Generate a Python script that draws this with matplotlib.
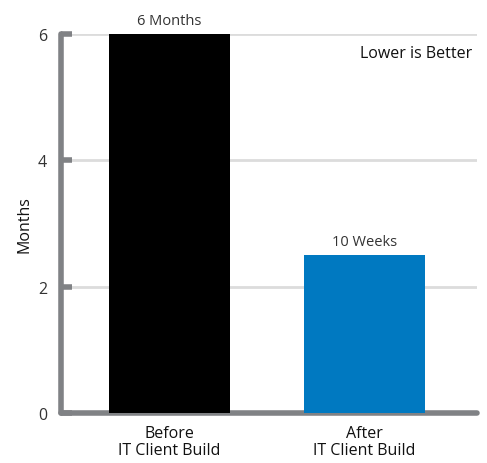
import matplotlib.pyplot as plt

# build time comparison
categories = ['Before\nIT Client Build', 'After\nIT Client Build']
months = [6, 2.5]
bar_labels = ['6 Months', '10 Weeks']
colors = ['#000000', '#0079c1']
yticks = [0, 2, 4, 6]

plt.rcParams['font.family'] = ['Open Sans', 'DejaVu Sans']

fig = plt.figure(figsize=(4.87, 4.64), dpi=100)
ax = fig.add_axes([0.1253, 0.1078, 0.8537, 0.8168])

x = range(len(categories))
bars = ax.bar(x, months, width=0.62, color=colors, zorder=3)
for b, lab in zip(bars, bar_labels):
    ax.text(b.get_x() + b.get_width() / 2, b.get_height() + 0.1, lab,
            ha='center', va='bottom', fontsize=10.5, color='#333333')

ax.set_xlim(-0.556, 1.577)
ax.set_ylim(0, 6)
ax.set_yticks(yticks)
ax.set_xticks(list(x))
ax.set_xticklabels(categories, fontsize=11.5, color='#111111', linespacing=1.05)
ax.tick_params(axis='x', length=0, pad=9)
ax.tick_params(axis='y', direction='in', length=8, width=4, color='#808285',
               labelsize=11.5, labelcolor='#333333', pad=10)
ax.yaxis.grid(True, color='#dcdcdc', linewidth=2, zorder=0)

for side in ['top', 'right']:
    ax.spines[side].set_visible(False)
for side in ['left', 'bottom']:
    ax.spines[side].set_color('#808285')
    ax.spines[side].set_linewidth(4)
    ax.spines[side].set_capstyle('round')

ax.set_ylabel('Months', fontsize=11.5, color='#111111', labelpad=4)
ax.text(0.99, 0.95, 'Lower is Better', transform=ax.transAxes,
        ha='right', va='center', fontsize=11.5, color='#111111')

fig.savefig('out.png', dpi=100)
